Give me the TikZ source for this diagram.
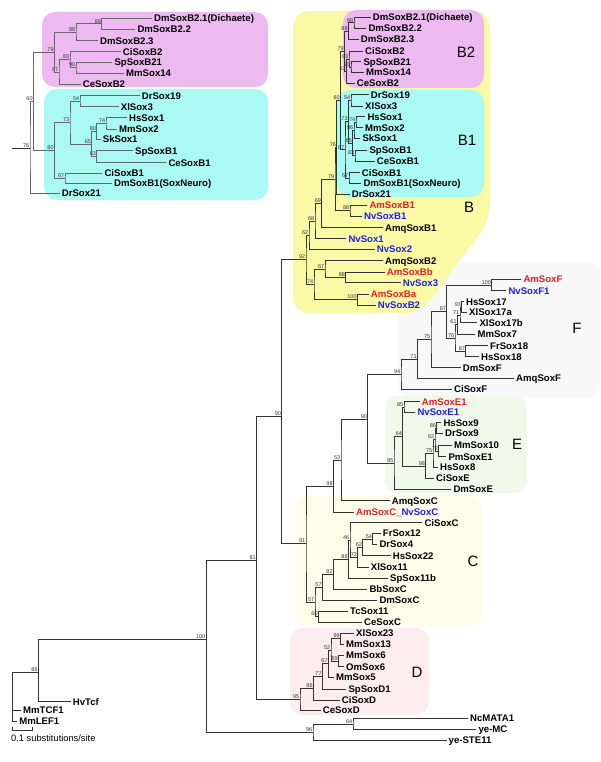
\documentclass[tikz,border=0pt]{standalone}
\usepackage{fontspec}
\setmainfont{Liberation Sans}
\definecolor{amred}{RGB}{236,28,36}
\definecolor{nvblue}{RGB}{30,30,230}
\definecolor{bcol}{RGB}{250,249,165}
\definecolor{btwocol}{RGB}{236,186,240}
\definecolor{bonecol}{RGB}{170,250,243}
\definecolor{fcol}{RGB}{248,248,248}
\definecolor{ecol}{RGB}{239,250,235}
\definecolor{ccol}{RGB}{254,253,236}
\definecolor{dcol}{RGB}{252,236,239}
% bootstrap node: coordinate plus its support value
\newcommand{\bnode}[3]{\coordinate (#1) at (#2); \node[bs] (#1_bs) at (#1) {#3};}

\begin{document}
\begin{tikzpicture}[
    x=1pt, y=-1pt,
    twig/.style={draw=black!80, line width=0.6pt},
    itwig/.style={draw=black!60, line width=0.6pt},
    leaf/.style={anchor=west, inner xsep=2pt, inner ysep=0pt, text height=6.9pt, text depth=0pt, font=\bfseries\fontsize{9.6}{10}\selectfont},
    am/.style={leaf, text=amred},
    nv/.style={leaf, text=nvblue},
    bs/.style={anchor=south east, inner sep=0.5pt, font=\fontsize{5.5}{6}\selectfont, text=black!80},
    clade/.style={font=\fontsize{15}{16}\selectfont},
    cbox/.style={rounded corners=13pt}
]
\useasboundingbox (0,0) rectangle (600,762);

% Clade boxes
\fill[fcol, cbox] (398,262) rectangle (600,398);
\fill[ecol, cbox] (385,396) rectangle (527,493);
\fill[ccol, cbox] (295,495) rectangle (482,627);
\fill[dcol, cbox] (290,628) rectangle (429,715);
\fill[bcol, rounded corners=16pt] (293,11) -- (490,11) -- (490,220) -- (421,313) -- (293,313) -- cycle;
\fill[btwocol, cbox] (343,10) rectangle (484,88);
\fill[bonecol, cbox] (337,90) rectangle (484,197);
\fill[btwocol, cbox] (42,12) rectangle (268,87);
\fill[bonecol, cbox] (44,89) rectangle (268,200);

% Clade letters
\node[clade] (T_B2) at (466,52) {B2};
\node[clade] (T_B1) at (467,140) {B1};
\node[clade] (T_B) at (469,207) {B};
\node[clade] (T_F) at (577,328) {F};
\node[clade] (T_E) at (517,444) {E};
\node[clade] (T_C) at (473,561) {C};
\node[clade] (T_D) at (417,672) {D};

% Inset: leaves
\node[leaf] (I_DmSoxB21) at (152,18.3) {DmSoxB2.1(Dichaete)};
\node[leaf] (I_DmSoxB22) at (135.3,29.3) {DmSoxB2.2};
\node[leaf] (I_DmSoxB23) at (98,40.7) {DmSoxB2.3};
\node[leaf] (I_CiSoxB2) at (120.7,51.7) {CiSoxB2};
\node[leaf] (I_SpSoxB21) at (112.3,62) {SpSoxB21};
\node[leaf] (I_MmSox14) at (124,73.3) {MmSox14};
\node[leaf] (I_CeSoxB2) at (80.7,84) {CeSoxB2};
\node[leaf] (I_DrSox19) at (139.7,95.7) {DrSox19};
\node[leaf] (I_XlSox3) at (118.7,106.7) {XlSox3};
\node[leaf] (I_HsSox1) at (127,117.7) {HsSox1};
\node[leaf] (I_MmSox2) at (117,129) {MmSox2};
\node[leaf] (I_SkSox1) at (100.7,139.3) {SkSox1};
\node[leaf] (I_SpSoxB1) at (133,150.7) {SpSoxB1};
\node[leaf] (I_CeSoxB1) at (166.3,162.7) {CeSoxB1};
\node[leaf] (I_CiSoxB1) at (102.3,173.3) {CiSoxB1};
\node[leaf] (I_DmSoxB1) at (112,183.3) {DmSoxB1(SoxNeuro)};
\node[leaf] (I_DrSox21) at (59.7,193.3) {DrSox21};

% Inset: inner nodes
\bnode{J_88a}{101.7,23.8}{88}
\bnode{J_88b}{76,32.3}{88}
\bnode{J_90}{76,67.7}{90}
\bnode{J_83}{70,59.7}{83}
\bnode{J_67}{59,71.9}{67}
\bnode{J_79}{54.3,52.1}{79}
\bnode{J_54}{80,101.2}{54}
\bnode{J_74}{106,123.3}{74}
\bnode{J_80b}{96.7,131.3}{80}
\bnode{J_83b}{96.7,156.7}{83}
\bnode{J_65}{91.7,144}{65}
\bnode{J_73}{70,122.6}{73}
\bnode{J_67b}{65,178.3}{67}
\bnode{J_80}{54.3,150.5}{80}
\bnode{J_60}{33.3,101.3}{60}
\bnode{J_76}{30,148}{76}
\coordinate (J_stub) at (11.7,148);

% Inset: edges
\draw[itwig] (I_DmSoxB21.west) -| (J_88a) |- (I_DmSoxB22.west);
\draw[itwig] (J_88a) -| (J_88b) |- (I_DmSoxB23.west);
\draw[itwig] (I_SpSoxB21.west) -| (J_90) |- (I_MmSox14.west);
\draw[itwig] (I_CiSoxB2.west) -| (J_83) |- (J_90);
\draw[itwig] (J_83) -| (J_67) |- (I_CeSoxB2.west);
\draw[itwig] (J_88b) -| (J_79) |- (J_67);
\draw[itwig] (I_DrSox19.west) -| (J_54) |- (I_XlSox3.west);
\draw[itwig] (I_HsSox1.west) -| (J_74) |- (I_MmSox2.west);
\draw[itwig] (J_74) -| (J_80b) |- (I_SkSox1.west);
\draw[itwig] (I_SpSoxB1.west) -| (J_83b) |- (I_CeSoxB1.west);
\draw[itwig] (J_80b) -| (J_65) |- (J_83b);
\draw[itwig] (J_54) -| (J_73) |- (J_65);
\draw[itwig] (I_CiSoxB1.west) -| (J_67b) |- (I_DmSoxB1.west);
\draw[itwig] (J_73) -| (J_80) |- (J_67b);
\draw[itwig] (J_79) -| (J_60) |- (J_80);
\draw[itwig] (J_60) -| (J_76) |- (I_DrSox21.west);
\draw[twig] (J_stub) -- (J_76);

% Main tree: leaves, group B
\node[leaf] (L_DmSoxB21) at (370.7,17.3) {DmSoxB2.1(Dichaete)};
\node[leaf] (L_DmSoxB22) at (366.3,28.3) {DmSoxB2.2};
\node[leaf] (L_DmSoxB23) at (358.7,39.3) {DmSoxB2.3};
\node[leaf] (L_CiSoxB2) at (363,51) {CiSoxB2};
\node[leaf] (L_SpSoxB21) at (361.3,61.7) {SpSoxB21};
\node[leaf] (L_MmSox14) at (364,72.3) {MmSox14};
\node[leaf] (L_CeSoxB2) at (354.7,83.3) {CeSoxB2};
\node[leaf] (L_DrSox19) at (368.7,94.7) {DrSox19};
\node[leaf] (L_XlSox3) at (363,106) {XlSox3};
\node[leaf] (L_HsSox1) at (365.3,116.7) {HsSox1};
\node[leaf] (L_MmSox2) at (363,127.7) {MmSox2};
\node[leaf] (L_SkSox1) at (360.3,138.3) {SkSox1};
\node[leaf] (L_SpSoxB1) at (367.3,150) {SpSoxB1};
\node[leaf] (L_CeSoxB1) at (374.7,161) {CeSoxB1};
\node[leaf] (L_CiSoxB1) at (359.7,172.7) {CiSoxB1};
\node[leaf] (L_DmSoxB1) at (361.3,183.3) {DmSoxB1(SoxNeuro)};
\node[leaf] (L_DrSox21) at (349.7,194) {DrSox21};
\node[am] (L_AmSoxB1) at (367.3,205) {AmSoxB1};
\node[nv] (L_NvSoxB1) at (362,216) {NvSoxB1};
\node[leaf] (L_AmqSoxB1) at (383,227.7) {AmqSoxB1};
\node[nv] (L_NvSox1) at (346.3,238.7) {NvSox1};
\node[nv] (L_NvSox2) at (374.7,249.3) {NvSox2};
\node[leaf] (L_AmqSoxB2) at (383,260.7) {AmqSoxB2};
\node[am] (L_AmSoxBb) at (384.7,272) {AmSoxBb};
\node[nv] (L_NvSox3) at (400.7,282.7) {NvSox3};
\node[am] (L_AmSoxBa) at (368.7,294) {AmSoxBa};
\node[nv] (L_NvSoxB2) at (375.7,305) {NvSoxB2};

% group F
\node[am] (L_AmSoxF) at (521.3,279) {AmSoxF};
\node[nv] (L_NvSoxF1) at (506.3,290.7) {NvSoxF1};
\node[leaf] (L_HsSox17) at (464,301.7) {HsSox17};
\node[leaf] (L_XlSox17a) at (467,312.3) {XlSox17a};
\node[leaf] (L_XlSox17b) at (477.3,322.7) {XlSox17b};
\node[leaf] (L_MmSox7) at (475.3,334) {MmSox7};
\node[leaf] (L_FrSox18) at (488,345.7) {FrSox18};
\node[leaf] (L_HsSox18) at (479,356.7) {HsSox18};
\node[leaf] (L_DmSoxF) at (460.7,367.7) {DmSoxF};
\node[leaf] (L_AmqSoxF) at (514,378.3) {AmqSoxF};
\node[leaf] (L_CiSoxF) at (452,389.3) {CiSoxF};

% group E
\node[am] (L_AmSoxE1) at (419.7,401.7) {AmSoxE1};
\node[nv] (L_NvSoxE1) at (415.3,412.3) {NvSoxE1};
\node[leaf] (L_HsSox9) at (441.3,422.7) {HsSox9};
\node[leaf] (L_DrSox9) at (443,433.3) {DrSox9};
\node[leaf] (L_MmSox10) at (452,445) {MmSox10};
\node[leaf] (L_PmSoxE1) at (446.3,456.7) {PmSoxE1};
\node[leaf] (L_HsSox8) at (438,467.3) {HsSox8};
\node[leaf] (L_CiSoxE) at (434,478.3) {CiSoxE};
\node[leaf] (L_DmSoxE) at (451.3,489) {DmSoxE};

% group C
\node[leaf] (L_AmqSoxC) at (389.7,500.7) {AmqSoxC};
\node[leaf] (L_AmNvSoxC) at (354,512) {\textcolor{amred}{AmSoxC}\_\textcolor{nvblue}{NvSoxC}};
\node[leaf] (L_CiSoxC) at (422.3,522.7) {CiSoxC};
\node[leaf] (L_FrSox12) at (380.7,533.3) {FrSox12};
\node[leaf] (L_DrSox4) at (377.3,544.3) {DrSox4};
\node[leaf] (L_HsSox22) at (390.7,555.7) {HsSox22};
\node[leaf] (L_XlSox11) at (368.7,567.3) {XlSox11};
\node[leaf] (L_SpSox11b) at (388,578.3) {SpSox11b};
\node[leaf] (L_BbSoxC) at (367.3,589) {BbSoxC};
\node[leaf] (L_DmSoxC) at (377.3,600) {DmSoxC};
\node[leaf] (L_TcSox11) at (348,611) {TcSox11};
\node[leaf] (L_CeSoxC) at (362,622) {CeSoxC};

% group D
\node[leaf] (L_XlSox23) at (354,633.3) {XlSox23};
\node[leaf] (L_MmSox13) at (344,644) {MmSox13};
\node[leaf] (L_MmSox6) at (344,655) {MmSox6};
\node[leaf] (L_OmSox6) at (344,666.7) {OmSox6};
\node[leaf] (L_MmSox5) at (334,677.3) {MmSox5};
\node[leaf] (L_SpSoxD1) at (346.3,689) {SpSoxD1};
\node[leaf] (L_CiSoxD) at (339.7,700) {CiSoxD};
\node[leaf] (L_CeSoxD) at (320.7,710) {CeSoxD};

% outgroups
\node[leaf] (L_NcMATA1) at (468,718.3) {NcMATA1};
\node[leaf] (L_yeMC) at (476.4,729.3) {ye-MC};
\node[leaf] (L_yeSTE11) at (446.5,740) {ye-STE11};
\node[leaf] (L_HvTcf) at (70.7,701.7) {HvTcf};
\node[leaf] (L_MmTCF1) at (21,710) {MmTCF1};
\node[leaf] (L_MmLEF1) at (17.1,721) {MmLEF1};

% Main tree: inner nodes
\bnode{N_b88a}{354,22.8}{88}
\bnode{N_b88b}{348.3,31}{88}
\bnode{N_b90}{351,67}{90}
\bnode{N_b83}{349,59}{83}
\bnode{N_b67}{346.5,71.2}{67}
\bnode{N_b79}{344.5,51.1}{79}
\bnode{N_b54}{351,100.3}{54}
\bnode{N_b74}{356,122.2}{74}
\bnode{N_b86}{354,130.3}{86}
\bnode{N_b83b}{355,155.5}{83}
\bnode{N_b65}{352.7,142.9}{65}
\bnode{N_b73}{348.3,121.6}{73}
\bnode{N_b67b}{349,178}{67}
\bnode{N_b87}{345,149.8}{87}
\bnode{N_b60}{340.5,100.5}{60}
\bnode{N_b76}{336.7,147.2}{76}
\bnode{N_b88c}{350,210.5}{88}
\bnode{N_b79b}{335,178.9}{79}
\bnode{N_b69}{321.7,203.3}{69}
\bnode{N_b68}{315,221}{68}
\bnode{N_b62}{309,235.2}{62}
\bnode{N_b88d}{345.7,277.3}{88}
\bnode{N_b67c}{325,269}{67}
\bnode{N_b100}{357.3,299.5}{100}
\bnode{N_b74b}{314,284.3}{74}
\bnode{N_b92}{306,259.7}{92}
\bnode{N_90}{281.7,416}{90}
\bnode{N_91}{306,543.4}{91}
\bnode{N_98}{333.3,486}{98}
\bnode{N_53}{341,460}{53}
\bnode{N_ef90}{367.7,419}{90}
\bnode{N_f94}{401,374.1}{94}
\bnode{N_f71}{417.3,358.9}{71}
\bnode{N_f75}{431,339.5}{75}
\bnode{N_f87u}{446.7,311.3}{87}
\bnode{N_f100}{491.7,284.8}{100}
\bnode{N_f76}{455,337.8}{76}
\bnode{N_f61}{457.3,324.4}{61}
\bnode{N_f71s}{460,314.8}{71}
\bnode{N_f93}{461.7,307}{93}
\bnode{N_f87l}{465.7,351.2}{87}
\bnode{N_e95}{394,462.9}{95}
\bnode{N_e64}{402.7,436.4}{64}
\bnode{N_e85}{404,407}{85}
\bnode{N_e98}{425.7,465.8}{98}
\bnode{N_e75}{433,453.3}{75}
\bnode{N_e62}{435,439.4}{62}
\bnode{N_e86}{436.7,428}{86}
\bnode{N_e72}{438.7,450.8}{72}
\bnode{N_c57b}{315,601.8}{57}
\bnode{N_c57a}{322.3,587}{57}
\bnode{N_c82}{333.3,574.1}{82}
\bnode{N_c88}{348.3,559.2}{88}
\bnode{N_c46}{350,540}{46}
\bnode{N_c72}{357.7,557.2}{72}
\bnode{N_c62}{362.7,547.2}{62}
\bnode{N_c54}{372.7,538.8}{54}
\bnode{N_c60}{318.3,616.5}{60}
\bnode{N_81}{256.5,560}{81}
\bnode{N_95d}{300,699}{95}
\bnode{N_d86}{313.3,688}{86}
\bnode{N_d77}{322.3,676.3}{77}
\bnode{N_d67}{328.3,663.5}{67}
\bnode{N_d52}{331,649.8}{52}
\bnode{N_d98}{340.5,638.7}{98}
\bnode{N_d89}{338.3,660.8}{89}
\bnode{N_100}{205.9,639}{100}
\bnode{N_96}{313,732.3}{96}
\bnode{N_o64}{353,723.8}{64}
\bnode{N_86}{38.3,672}{86}
\coordinate (N_root) at (12.6,710);

% Main tree: edges, group B
\draw[twig] (L_DmSoxB21.west) -| (N_b88a) |- (L_DmSoxB22.west);
\draw[twig] (N_b88a) -| (N_b88b) |- (L_DmSoxB23.west);
\draw[twig] (L_SpSoxB21.west) -| (N_b90) |- (L_MmSox14.west);
\draw[twig] (L_CiSoxB2.west) -| (N_b83) |- (N_b90);
\draw[twig] (N_b83) -| (N_b67) |- (L_CeSoxB2.west);
\draw[twig] (N_b88b) -| (N_b79) |- (N_b67);
\draw[twig] (L_DrSox19.west) -| (N_b54) |- (L_XlSox3.west);
\draw[twig] (L_HsSox1.west) -| (N_b74) |- (L_MmSox2.west);
\draw[twig] (N_b74) -| (N_b86) |- (L_SkSox1.west);
\draw[twig] (L_SpSoxB1.west) -| (N_b83b) |- (L_CeSoxB1.west);
\draw[twig] (N_b86) -| (N_b65) |- (N_b83b);
\draw[twig] (N_b54) -| (N_b73) |- (N_b65);
\draw[twig] (L_CiSoxB1.west) -| (N_b67b) |- (L_DmSoxB1.west);
\draw[twig] (N_b73) -| (N_b87) |- (N_b67b);
\draw[twig] (N_b79) -| (N_b60) |- (N_b87);
\draw[twig] (N_b60) -| (N_b76) |- (L_DrSox21.west);
\draw[twig] (L_AmSoxB1.west) -| (N_b88c) |- (L_NvSoxB1.west);
\draw[twig] (N_b76) -| (N_b79b) |- (N_b88c);
\draw[twig] (N_b79b) -| (N_b69) |- (L_AmqSoxB1.west);
\draw[twig] (N_b69) -| (N_b68) |- (L_NvSox1.west);
\draw[twig] (N_b68) -| (N_b62) |- (L_NvSox2.west);
\draw[twig] (L_AmSoxBb.west) -| (N_b88d) |- (L_NvSox3.west);
\draw[twig] (L_AmqSoxB2.west) -| (N_b67c) |- (N_b88d);
\draw[twig] (L_AmSoxBa.west) -| (N_b100) |- (L_NvSoxB2.west);
\draw[twig] (N_b67c) -| (N_b74b) |- (N_b100);
\draw[twig] (N_b62) -| (N_b92) |- (N_b74b);
\draw[twig] (N_b92) -| (N_90) |- (N_91);

% groups E and F
\draw[twig] (N_98) -| (N_91) |- (N_c57b);
\draw[twig] (N_53) -| (N_98) |- (L_AmNvSoxC.west);
\draw[twig] (N_ef90) -| (N_53) |- (L_AmqSoxC.west);
\draw[twig] (N_f94) -| (N_ef90) |- (N_e95);
\draw[twig] (N_f71) -| (N_f94) |- (L_CiSoxF.west);
\draw[twig] (N_f75) -| (N_f71) |- (L_AmqSoxF.west);
\draw[twig] (N_f87u) -| (N_f75) |- (L_DmSoxF.west);
\draw[twig] (N_f100) -| (N_f87u) |- (N_f76);
\draw[twig] (L_AmSoxF.west) -| (N_f100) |- (L_NvSoxF1.west);
\draw[twig] (N_f61) -| (N_f76) |- (N_f87l);
\draw[twig] (N_f71s) -| (N_f61) |- (L_MmSox7.west);
\draw[twig] (N_f93) -| (N_f71s) |- (L_XlSox17b.west);
\draw[twig] (L_HsSox17.west) -| (N_f93) |- (L_XlSox17a.west);
\draw[twig] (L_FrSox18.west) -| (N_f87l) |- (L_HsSox18.west);
\draw[twig] (N_e64) -| (N_e95) |- (L_DmSoxE.west);
\draw[twig] (N_e85) -| (N_e64) |- (N_e98);
\draw[twig] (L_AmSoxE1.west) -| (N_e85) |- (L_NvSoxE1.west);
\draw[twig] (N_e75) -| (N_e98) |- (L_CiSoxE.west);
\draw[twig] (N_e62) -| (N_e75) |- (L_HsSox8.west);
\draw[twig] (N_e86) -| (N_e62) |- (N_e72);
\draw[twig] (L_HsSox9.west) -| (N_e86) |- (L_DrSox9.west);
\draw[twig] (L_MmSox10.west) -| (N_e72) |- (L_PmSoxE1.west);

% group C
\draw[twig] (N_c57a) -| (N_c57b) |- (N_c60);
\draw[twig] (N_c82) -| (N_c57a) |- (L_DmSoxC.west);
\draw[twig] (N_c88) -| (N_c82) |- (L_BbSoxC.west);
\draw[twig] (N_c46) -| (N_c88) |- (L_SpSox11b.west);
\draw[twig] (L_CiSoxC.west) -| (N_c46) |- (N_c72);
\draw[twig] (N_c62) -| (N_c72) |- (L_XlSox11.west);
\draw[twig] (N_c54) -| (N_c62) |- (L_HsSox22.west);
\draw[twig] (L_FrSox12.west) -| (N_c54) |- (L_DrSox4.west);
\draw[twig] (L_TcSox11.west) -| (N_c60) |- (L_CeSoxC.west);

% group D and outgroups
\draw[twig] (N_90) -| (N_81) |- (N_95d);
\draw[twig] (N_d86) -| (N_95d) |- (L_CeSoxD.west);
\draw[twig] (N_d77) -| (N_d86) |- (L_CiSoxD.west);
\draw[twig] (N_d67) -| (N_d77) |- (L_SpSoxD1.west);
\draw[twig] (N_d52) -| (N_d67) |- (L_MmSox5.west);
\draw[twig] (N_d98) -| (N_d52) |- (N_d89);
\draw[twig] (L_XlSox23.west) -| (N_d98) |- (L_MmSox13.west);
\draw[twig] (L_MmSox6.west) -| (N_d89) |- (L_OmSox6.west);
\draw[twig] (N_81) -| (N_100) |- (N_96);
\draw[twig] (N_o64) -| (N_96) |- (L_yeSTE11.west);
\draw[twig] (L_NcMATA1.west) -| (N_o64) |- (L_yeMC.west);
\draw[twig] (N_100) -| (N_86) |- (L_HvTcf.west);
\draw[twig] (N_86) -| (N_root) |- (L_MmLEF1.west);
\draw[twig] (N_root) -- (L_MmTCF1.west);

% Scale bar
\draw[twig] (12.6,727) -- (12.6,730) -- (31.8,730) -- (31.8,727);
\node[anchor=west, inner sep=0pt, font=\fontsize{9.3}{10}\selectfont] (T_scale) at (11,738.5) {0.1 substitutions/site};
\end{tikzpicture}
\end{document}
